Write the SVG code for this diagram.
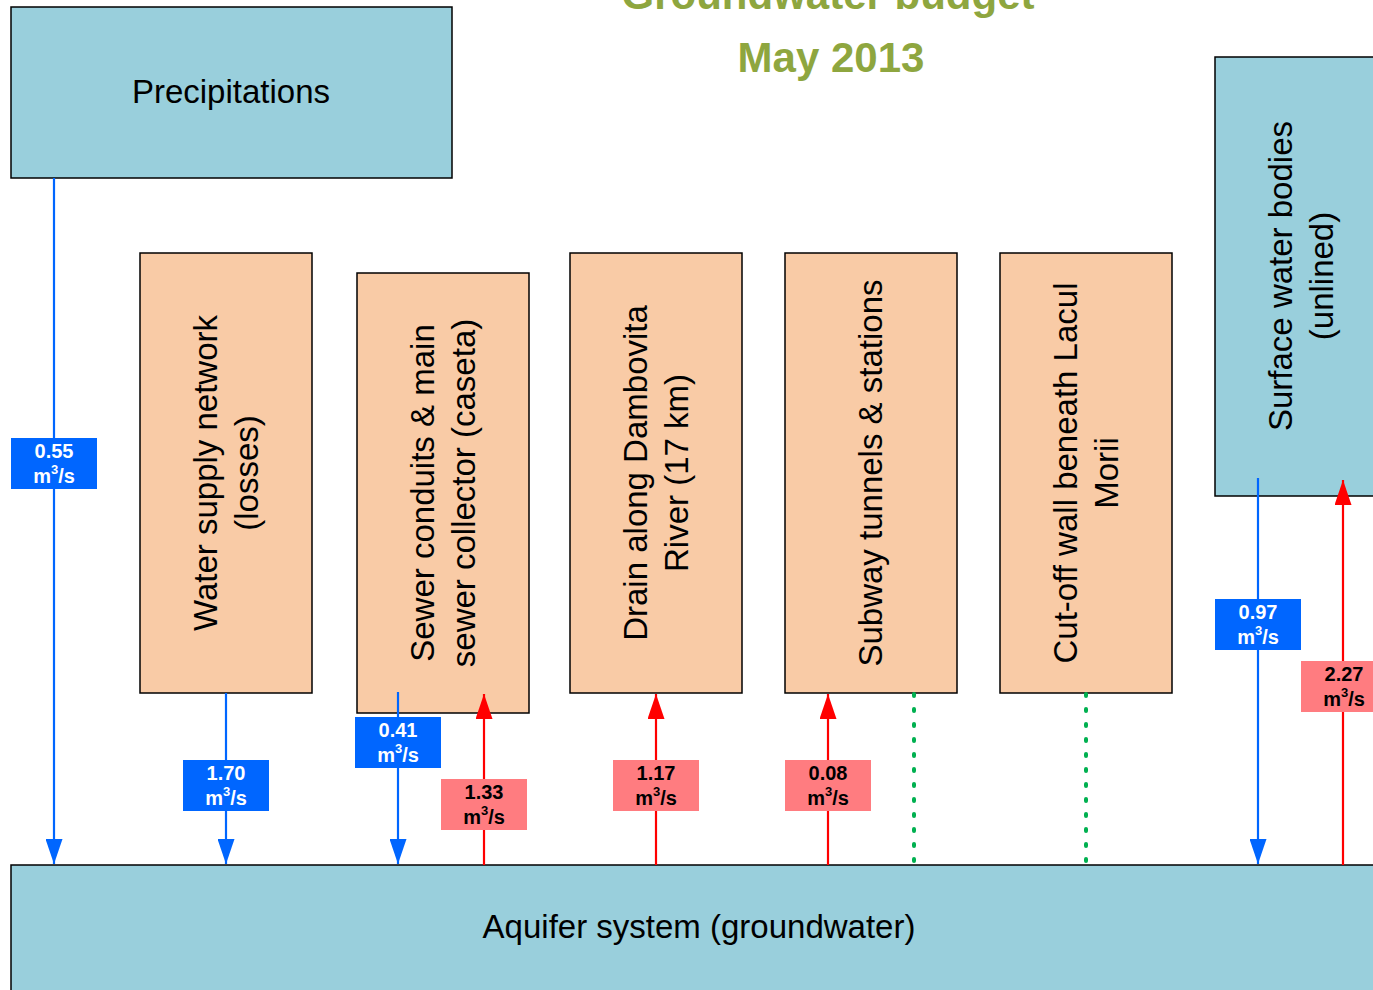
<svg xmlns="http://www.w3.org/2000/svg" width="1373" height="990" viewBox="0 0 1373 990">
<defs>
<style>
.blue{fill:#99CFDC;stroke:#000;stroke-width:1.5}
.org{fill:#F9CBA6;stroke:#000;stroke-width:1.5}
.t{font-family:"Liberation Sans",Arial,sans-serif;font-size:33px;fill:#000}
.title{font-family:"Liberation Sans",Arial,sans-serif;font-size:42px;font-weight:bold;fill:#8EA63F;text-anchor:middle}
.ln{fill:none;stroke-width:2.2}
.b{stroke:#0066FF}
.r{stroke:#FF0000}
.g{stroke:#00B050;stroke-width:4;stroke-dasharray:2 13;stroke-linecap:round;fill:none}
.lb{fill:#0066FF}
.lr{fill:#FF7C80}
.lt{font-family:"Liberation Sans",Arial,sans-serif;font-size:20px;font-weight:bold;text-anchor:middle}
.w{fill:#fff}
.k{fill:#000}
</style>
<marker id="ab" viewBox="0 0 17 25" refX="8.5" refY="25" markerWidth="17" markerHeight="25" markerUnits="userSpaceOnUse" orient="auto-start-reverse">
<path d="M0,25 L8.5,0 L17,25 Z" fill="#0066FF"/>
</marker>
<marker id="ar" viewBox="0 0 17 25" refX="8.5" refY="0" markerWidth="17" markerHeight="25" markerUnits="userSpaceOnUse" orient="0">
<path d="M0,25 L8.5,0 L17,25 Z" fill="#FF0000"/>
</marker>
<marker id="abd" viewBox="0 0 17 25" refX="8.5" refY="25" markerWidth="17" markerHeight="25" markerUnits="userSpaceOnUse" orient="0">
<path d="M0,0 L17,0 L8.5,25 Z" fill="#0066FF"/>
</marker>
</defs>
<rect width="1373" height="990" fill="#fff"/>
<g id="title">
<text class="title" x="828" y="9">Groundwater budget</text>
<text class="title" x="831" y="72">May 2013</text>
</g>
<g id="precipitations">
<rect class="blue" x="11" y="7" width="441" height="171"/>
<text class="t" x="231" y="103" text-anchor="middle">Precipitations</text>
</g>
<g id="aquifer">
<rect class="blue" x="11" y="865" width="1380" height="140"/>
<text class="t" x="699" y="938" text-anchor="middle">Aquifer system (groundwater)</text>
</g>
<g id="surface-water">
<rect class="blue" x="1215" y="57" width="172" height="439"/>
<text class="t" transform="translate(1301,276) rotate(-90)" text-anchor="middle"><tspan x="0" y="-9">Surface water bodies</tspan><tspan x="0" y="32">(unlined)</tspan></text>
</g>
<g id="water-supply">
<rect class="org" x="140" y="253" width="172" height="440"/>
<text class="t" transform="translate(226,473) rotate(-90)" text-anchor="middle"><tspan x="0" y="-9">Water supply network</tspan><tspan x="0" y="32">(losses)</tspan></text>
</g>
<g id="sewer">
<rect class="org" x="357" y="273" width="172" height="440"/>
<text class="t" transform="translate(443,493) rotate(-90)" text-anchor="middle"><tspan x="0" y="-9">Sewer conduits &amp; main</tspan><tspan x="0" y="32">sewer collector (caseta)</tspan></text>
</g>
<g id="drain">
<rect class="org" x="570" y="253" width="172" height="440"/>
<text class="t" transform="translate(656,473) rotate(-90)" text-anchor="middle"><tspan x="0" y="-9">Drain along Dambovita</tspan><tspan x="0" y="32">River (17 km)</tspan></text>
</g>
<g id="subway">
<rect class="org" x="785" y="253" width="172" height="440"/>
<text class="t" transform="translate(871,473) rotate(-90)" text-anchor="middle"><tspan x="0" y="11">Subway tunnels &amp; stations</tspan></text>
</g>
<g id="cutoff-wall">
<rect class="org" x="1000" y="253" width="172" height="440"/>
<text class="t" transform="translate(1086,473) rotate(-90)" text-anchor="middle"><tspan x="0" y="-9">Cut-off wall beneath Lacul</tspan><tspan x="0" y="32">Morii</tspan></text>
</g>
<g id="connectors">
<line class="ln b" x1="54" y1="178" x2="54" y2="864" marker-end="url(#abd)"/>
<line class="ln b" x1="226" y1="693" x2="226" y2="864" marker-end="url(#abd)"/>
<line class="ln b" x1="398" y1="692" x2="398" y2="864" marker-end="url(#abd)"/>
<line class="ln b" x1="1258" y1="478" x2="1258" y2="864" marker-end="url(#abd)"/>
<line class="ln r" x1="484" y1="865" x2="484" y2="694" marker-end="url(#ar)"/>
<line class="ln r" x1="656" y1="865" x2="656" y2="694" marker-end="url(#ar)"/>
<line class="ln r" x1="828" y1="865" x2="828" y2="694" marker-end="url(#ar)"/>
<line class="ln r" x1="1343" y1="865" x2="1343" y2="480" marker-end="url(#ar)"/>
<line class="g" x1="914" y1="694" x2="914" y2="864"/>
<line class="g" x1="1086" y1="694" x2="1086" y2="864"/>
<g id="labels">
<rect class="lb" x="11" y="438" width="86" height="51"/>
<text class="lt w" x="54" y="458">0.55</text><text class="lt w" x="54" y="483">m<tspan font-size="13" dy="-9">3</tspan><tspan dy="9">/s</tspan></text>
<rect class="lb" x="183" y="760" width="86" height="51"/>
<text class="lt w" x="226" y="780">1.70</text><text class="lt w" x="226" y="805">m<tspan font-size="13" dy="-9">3</tspan><tspan dy="9">/s</tspan></text>
<rect class="lb" x="355" y="717" width="86" height="51"/>
<text class="lt w" x="398" y="737">0.41</text><text class="lt w" x="398" y="762">m<tspan font-size="13" dy="-9">3</tspan><tspan dy="9">/s</tspan></text>
<rect class="lb" x="1215" y="599" width="86" height="51"/>
<text class="lt w" x="1258" y="619">0.97</text><text class="lt w" x="1258" y="644">m<tspan font-size="13" dy="-9">3</tspan><tspan dy="9">/s</tspan></text>
<rect class="lr" x="441" y="779" width="86" height="51"/>
<text class="lt k" x="484" y="799">1.33</text><text class="lt k" x="484" y="824">m<tspan font-size="13" dy="-9">3</tspan><tspan dy="9">/s</tspan></text>
<rect class="lr" x="613" y="760" width="86" height="51"/>
<text class="lt k" x="656" y="780">1.17</text><text class="lt k" x="656" y="805">m<tspan font-size="13" dy="-9">3</tspan><tspan dy="9">/s</tspan></text>
<rect class="lr" x="785" y="760" width="86" height="51"/>
<text class="lt k" x="828" y="780">0.08</text><text class="lt k" x="828" y="805">m<tspan font-size="13" dy="-9">3</tspan><tspan dy="9">/s</tspan></text>
<rect class="lr" x="1301" y="661" width="86" height="51"/>
<text class="lt k" x="1344" y="681">2.27</text><text class="lt k" x="1344" y="706">m<tspan font-size="13" dy="-9">3</tspan><tspan dy="9">/s</tspan></text>
</g>
</g>
</svg>
